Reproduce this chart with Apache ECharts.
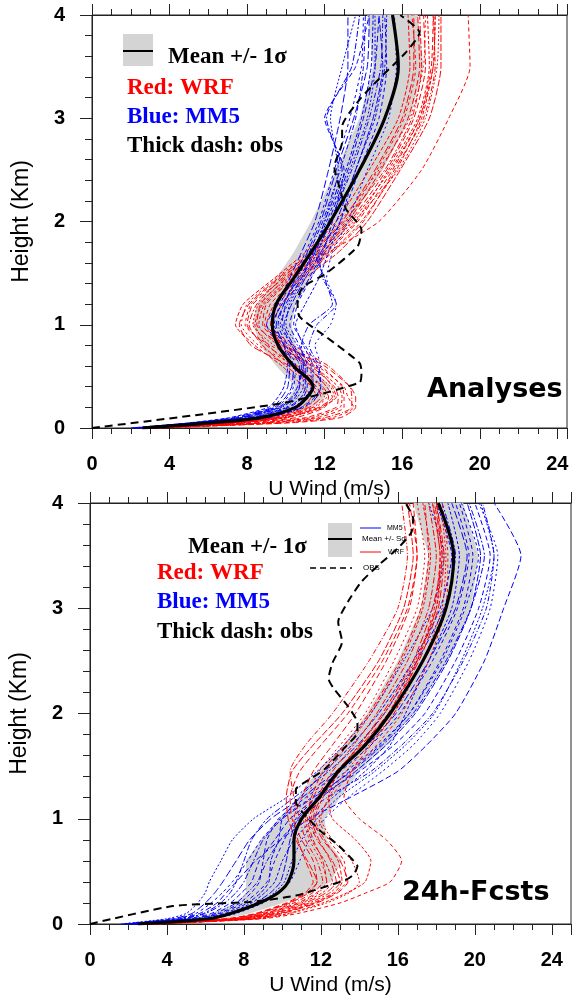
<!DOCTYPE html>
<html>
<head>
<meta charset="utf-8">
<script src="https://cdn.jsdelivr.net/npm/echarts@6/dist/echarts.min.js"></script>
<style>
html,body{margin:0;padding:0;background:#fff;}
#c{width:576px;height:997px;}
</style>
</head>
<body>
<div id="c"></div>
<script>
// Height levels (km) used for ensemble members, mean and sigma
const levels = [0, 0.05, 0.1, 0.2, 0.3, 0.4, 0.6, 0.8, 1.0, 1.2, 1.45, 1.7, 2.0, 2.5, 3.0, 3.5, 4.0];

// ---------- Panel 1: Analyses ----------
const anaWRF = [
  [2.4, 6.8, 9.2, 10.8, 11.3, 10.9, 9.8, 8.4, 7.4, 7.8, 9.4, 11.0, 12.6, 14.3, 15.8, 16.4, 16.3],
  [2.8, 8.0, 10.5, 12.0, 12.2, 11.9, 10.6, 9.0, 8.0, 8.3, 9.9, 11.6, 13.2, 14.9, 16.3, 16.9, 16.8],
  [3.1, 8.8, 11.3, 12.8, 12.9, 12.7, 11.4, 9.6, 8.6, 8.9, 10.3, 12.0, 13.6, 15.3, 16.8, 17.4, 17.3],
  [2.5, 7.0, 9.5, 11.2, 11.8, 11.6, 10.2, 8.2, 7.6, 8.1, 9.6, 11.3, 12.9, 14.6, 16.0, 16.6, 16.6],
  [3.3, 9.5, 12.0, 13.4, 13.4, 13.3, 12.2, 10.4, 9.2, 9.6, 10.8, 12.4, 14.0, 15.6, 17.1, 17.7, 17.6],
  [2.9, 7.6, 10.1, 11.9, 12.5, 12.3, 11.0, 9.4, 8.3, 8.6, 10.1, 11.8, 13.5, 15.8, 17.2, 17.8, 17.9],
  [2.6, 7.1, 9.6, 11.4, 12.0, 11.4, 10.0, 8.8, 8.1, 8.5, 9.8, 11.4, 13.0, 15.1, 16.5, 17.0, 16.9],
  [3.0, 9.0, 11.6, 13.0, 13.0, 12.9, 11.8, 10.0, 8.9, 9.2, 10.6, 12.2, 14.8, 17.0, 18.4, 19.5, 19.4],
  [2.7, 7.4, 9.9, 11.7, 12.4, 12.1, 11.1, 9.8, 9.3, 9.8, 11.0, 12.7, 14.2, 15.9, 17.4, 18.0, 18.0],
  [3.2, 9.8, 12.4, 13.5, 13.2, 13.0, 11.6, 9.2, 7.9, 8.2, 9.7, 11.5, 13.1, 14.7, 16.1, 16.7, 16.5],
  [2.5, 7.2, 9.7, 11.5, 12.1, 11.8, 10.5, 8.6, 7.7, 8.0, 9.5, 11.2, 12.8, 14.8, 16.4, 17.1, 17.2],
  [3.0, 8.5, 11.0, 12.6, 12.7, 12.5, 11.3, 9.9, 8.8, 9.0, 10.4, 12.1, 13.7, 15.5, 16.9, 17.5, 17.6],
  [2.8, 7.5, 10.0, 11.8, 12.6, 12.4, 11.5, 10.2, 9.0, 9.4, 10.7, 12.3, 13.9, 15.7, 17.0, 17.6, 17.7],
  [3.4, 10.2, 12.8, 13.6, 13.6, 13.3, 12.0, 9.9, 8.5, 8.7, 10.0, 11.7, 13.3, 15.2, 16.6, 17.2, 17.1],
  [2.6, 7.0, 9.4, 11.0, 11.6, 11.3, 10.3, 9.1, 8.4, 8.8, 10.2, 11.9, 13.4, 15.4, 16.9, 17.6, 17.7]
];
const anaMM5 = [
  [2.1, 5.2, 7.3, 9.3, 9.8, 10.1, 10.2, 9.7, 9.0, 9.6, 10.2, 10.8, 11.5, 12.2, 12.8, 13.2, 13.2],
  [2.4, 5.6, 7.9, 9.8, 10.5, 10.7, 10.7, 10.1, 9.6, 9.9, 10.6, 11.2, 11.9, 12.8, 13.6, 14.0, 14.1],
  [2.7, 6.0, 8.5, 10.4, 11.0, 11.3, 11.3, 10.6, 10.0, 10.2, 10.9, 11.6, 12.3, 13.3, 14.2, 14.6, 14.6],
  [2.3, 5.4, 7.7, 9.6, 10.3, 10.6, 10.9, 10.8, 11.2, 12.4, 12.0, 11.5, 12.0, 12.9, 12.1, 13.4, 13.8],
  [2.9, 6.3, 9.0, 10.8, 11.5, 11.8, 11.6, 11.0, 10.4, 10.6, 11.3, 12.0, 12.8, 13.8, 14.8, 15.2, 15.1],
  [2.5, 5.8, 8.2, 10.1, 10.8, 11.0, 11.0, 10.4, 9.9, 10.3, 11.0, 11.8, 12.6, 13.6, 14.5, 15.0, 14.8],
  [2.2, 5.1, 7.5, 9.5, 10.1, 10.4, 10.5, 10.0, 9.4, 9.7, 10.4, 11.0, 11.7, 12.5, 13.3, 13.9, 14.0],
  [2.8, 6.2, 8.8, 10.6, 11.2, 11.5, 11.8, 11.5, 12.3, 12.6, 12.1, 12.4, 13.2, 14.2, 15.3, 15.7, 15.6],
  [2.6, 5.9, 8.4, 10.2, 10.9, 11.1, 11.1, 10.7, 10.2, 10.5, 11.2, 11.9, 12.4, 13.0, 12.0, 13.6, 14.3],
  [2.0, 5.0, 7.1, 9.1, 9.6, 9.9, 10.1, 9.9, 9.3, 9.8, 10.7, 11.4, 12.1, 13.1, 13.9, 14.4, 14.5],
  [2.4, 5.5, 7.8, 9.7, 10.4, 10.7, 10.8, 10.3, 9.8, 10.0, 10.8, 11.5, 12.2, 13.2, 14.0, 14.6, 14.8],
  [2.7, 6.1, 8.6, 10.5, 11.1, 11.4, 11.4, 10.9, 10.5, 11.0, 11.7, 12.2, 12.8, 13.6, 14.6, 15.1, 15.2],
  [2.2, 5.3, 7.6, 9.4, 10.0, 10.3, 10.4, 9.9, 9.5, 9.9, 10.5, 11.1, 11.8, 12.6, 13.5, 14.2, 14.3],
  [2.9, 6.4, 9.1, 10.9, 11.6, 11.8, 11.7, 11.2, 11.6, 12.6, 11.9, 11.7, 12.3, 13.4, 14.3, 14.9, 15.0],
  [2.5, 5.7, 8.1, 10.0, 10.6, 10.9, 10.9, 10.3, 9.7, 10.1, 10.8, 11.4, 12.0, 12.7, 12.3, 12.9, 13.6]
];
const anaMean = [2.6, 6.1, 8.7, 10.5, 11.1, 11.4, 10.4, 9.6, 9.3, 9.5, 10.4, 11.3, 12.3, 13.8, 15.1, 15.8, 15.5];
const anaSigma = [0.3, 0.7, 0.9, 0.9, 0.9, 0.9, 0.9, 0.9, 1.0, 1.0, 0.9, 0.9, 1.0, 1.2, 1.3, 1.3, 1.3];
const anaObsH = [0, 0.24, 0.44, 0.54, 0.63, 0.88, 1.08, 1.24, 1.37, 1.5, 1.76, 1.92, 2.12, 2.31, 2.53, 2.77, 2.92, 3.18, 3.38, 3.64, 3.83, 4.0];
const anaObsU = [0, 9.8, 13.8, 13.9, 13.8, 12.1, 10.7, 10.6, 10.9, 12.1, 13.7, 13.9, 13.1, 12.8, 12.5, 12.9, 12.9, 13.8, 14.8, 16.2, 16.9, 15.9];

// ---------- Panel 2: 24h forecasts ----------
const fcWRF = [
  [2.6, 7.2, 8.6, 10.2, 11.2, 11.6, 11.2, 10.8, 10.6, 11.0, 11.6, 12.6, 13.8, 15.4, 16.6, 17.0, 16.6],
  [3.0, 7.8, 9.3, 11.0, 12.1, 12.6, 12.2, 11.5, 11.2, 11.6, 12.3, 13.4, 14.6, 16.2, 17.3, 17.7, 17.3],
  [3.3, 8.5, 10.0, 11.8, 12.9, 13.4, 13.0, 12.1, 11.6, 12.0, 12.9, 14.0, 15.2, 16.8, 17.8, 18.3, 17.9],
  [2.8, 7.5, 9.0, 10.6, 11.6, 12.1, 11.8, 11.2, 10.9, 10.6, 10.4, 11.2, 12.6, 14.5, 16.0, 16.5, 16.2],
  [3.4, 8.8, 10.4, 12.3, 13.5, 14.0, 13.6, 12.6, 12.0, 12.4, 13.3, 14.5, 15.8, 17.3, 18.3, 18.5, 18.2],
  [3.1, 8.1, 9.6, 11.4, 12.5, 13.0, 12.6, 11.8, 11.4, 11.8, 12.6, 13.7, 14.9, 16.5, 17.6, 18.0, 17.6],
  [3.5, 9.0, 10.8, 13.0, 14.4, 15.6, 16.2, 15.4, 14.0, 13.2, 13.6, 14.6, 15.8, 17.0, 17.9, 18.2, 17.8],
  [2.7, 7.3, 8.8, 10.4, 11.4, 11.8, 11.3, 10.7, 10.3, 10.2, 10.5, 11.6, 13.1, 15.0, 16.3, 16.8, 16.5],
  [3.2, 8.3, 9.9, 11.7, 12.8, 13.3, 13.2, 12.4, 11.9, 12.5, 13.6, 14.9, 16.2, 17.6, 18.5, 18.6, 18.3],
  [2.9, 7.7, 9.2, 10.9, 11.9, 12.3, 12.0, 11.4, 11.1, 11.3, 11.9, 13.0, 14.3, 15.8, 17.0, 17.4, 17.0],
  [2.8, 7.6, 9.1, 10.8, 11.8, 12.3, 12.1, 11.6, 11.3, 11.5, 12.1, 13.2, 14.5, 16.1, 17.2, 17.6, 17.4],
  [3.1, 8.2, 9.8, 11.6, 12.7, 13.1, 12.9, 12.2, 11.7, 12.1, 13.0, 14.2, 15.5, 17.0, 18.0, 18.2, 17.8],
  [2.6, 7.1, 8.7, 10.3, 11.3, 11.8, 11.6, 11.0, 10.5, 10.4, 10.9, 12.0, 13.4, 15.2, 16.5, 17.0, 16.8],
  [3.3, 8.6, 10.3, 12.1, 13.4, 14.3, 14.6, 13.8, 12.6, 12.4, 12.9, 14.0, 15.3, 16.9, 18.0, 18.3, 18.0],
  [2.9, 7.9, 9.5, 11.2, 12.3, 12.8, 12.5, 11.9, 11.5, 11.9, 12.8, 14.1, 15.5, 17.1, 18.1, 18.4, 18.0]
];
const fcMM5 = [
  [1.6, 4.0, 5.0, 5.6, 6.0, 6.2, 6.8, 7.4, 8.5, 10.2, 11.8, 13.2, 14.6, 16.3, 17.8, 18.4, 17.6],
  [2.0, 4.8, 5.9, 6.8, 7.3, 7.6, 8.0, 8.4, 9.2, 10.6, 12.4, 13.9, 15.3, 17.0, 18.4, 19.0, 18.3],
  [2.3, 5.5, 6.7, 7.8, 8.4, 8.8, 9.0, 9.2, 9.8, 11.2, 13.0, 14.6, 16.1, 17.8, 19.1, 19.7, 19.0],
  [2.6, 6.1, 7.3, 8.6, 9.4, 9.9, 10.2, 10.4, 10.8, 12.0, 13.8, 15.4, 16.9, 18.6, 19.8, 20.3, 19.6],
  [1.8, 4.5, 5.5, 6.3, 6.9, 7.4, 8.2, 8.9, 9.9, 11.5, 13.3, 15.0, 16.6, 18.3, 19.5, 20.2, 19.3],
  [2.8, 6.4, 7.6, 9.0, 9.8, 10.4, 10.9, 11.4, 12.2, 13.4, 15.2, 16.8, 18.2, 19.7, 20.8, 21.2, 20.2],
  [2.1, 5.1, 6.3, 7.3, 7.9, 8.4, 8.8, 9.6, 10.4, 11.8, 14.0, 15.8, 17.4, 19.0, 20.2, 20.8, 20.0],
  [2.4, 5.8, 7.0, 8.2, 8.9, 9.3, 9.4, 9.8, 10.0, 10.9, 12.2, 13.6, 15.0, 16.8, 18.2, 18.8, 18.0],
  [1.9, 4.6, 5.7, 6.6, 7.1, 7.6, 8.6, 9.9, 11.4, 13.5, 16.0, 17.5, 19.0, 20.5, 21.5, 22.4, 21.0],
  [2.5, 6.0, 7.2, 8.4, 9.1, 9.6, 10.0, 10.6, 11.6, 12.6, 14.3, 15.6, 16.4, 17.6, 18.8, 19.2, 18.6],
  [1.7, 4.3, 5.3, 6.0, 6.5, 6.9, 7.6, 8.3, 9.4, 11.0, 12.8, 14.4, 15.9, 17.6, 19.0, 19.6, 18.8],
  [2.2, 5.3, 6.5, 7.6, 8.2, 8.7, 9.2, 9.9, 10.9, 12.3, 14.6, 16.2, 17.8, 19.4, 20.6, 21.0, 20.4],
  [2.7, 6.3, 7.5, 8.8, 9.6, 10.1, 10.5, 11.0, 11.8, 12.9, 14.8, 16.4, 17.9, 19.3, 20.4, 21.0, 20.3],
  [2.0, 4.9, 6.0, 7.0, 7.6, 8.0, 8.5, 9.0, 10.0, 11.6, 13.6, 15.2, 16.8, 18.5, 19.8, 20.5, 19.7],
  [2.4, 5.6, 6.8, 8.0, 8.7, 9.2, 9.6, 10.1, 10.7, 11.8, 13.5, 15.1, 16.6, 18.2, 19.4, 19.9, 19.2]
];
const fcMean = [2.5, 6.2, 7.3, 8.8, 9.8, 10.3, 10.6, 10.6, 11.0, 11.9, 12.9, 14.3, 15.6, 17.3, 18.5, 18.9, 18.1];
const fcSigma = [0.3, 0.8, 1.0, 1.2, 1.7, 2.2, 2.5, 1.7, 1.2, 1.1, 1.1, 1.1, 1.2, 1.3, 1.3, 1.3, 1.3];
const fcObsH = [0, 0.17, 0.21, 0.27, 0.42, 0.47, 0.55, 0.62, 0.75, 0.88, 1.03, 1.16, 1.28, 1.35, 1.47, 1.67, 1.82, 1.91, 2.07, 2.23, 2.33, 2.48, 2.68, 2.87, 3.06, 3.25, 3.41, 3.57, 3.72, 3.85, 4.0];
const fcObsU = [0, 4.3, 8.3, 10.7, 13.3, 13.7, 13.9, 13.6, 12.9, 12.0, 11.2, 10.7, 10.7, 11.2, 12.2, 13.2, 13.9, 13.9, 13.4, 12.7, 12.4, 12.6, 13.1, 12.9, 13.4, 14.1, 15.0, 16.0, 16.7, 16.8, 16.4];

// Axis ticks
const xTicksMin = 0, xInterval = 4;
const yTicksMin = 0, yMax = 4, yInterval = 1;
const panelXMax = [24.5, 25];

// ---------- Chart ----------
const FONT = '"Liberation Sans", Arial, Helvetica, sans-serif';
const SERIF = '"Liberation Serif", "Times New Roman", serif';
const dashes = [[4,2],[6,3],[3,2],[8,3],[5,2,1,2],[2,2],[6,2,2,2],[4,3],[7,2],[3,3],[2,3],[5,3]];

const grids = [
  {left: 92, top: 15, width: 475, height: 413},
  {left: 87, top: 503, width: 484, height: 423}
];

function xAxes(gi) {
  const base = {
    gridIndex: gi, type: 'value', min: xTicksMin, max: panelXMax[gi], interval: xInterval,
    axisLine: {show: true, onZero: false, lineStyle: {color: '#222', width: 1}},
    axisTick: {show: true, length: 11, lineStyle: {color: '#222'}},
    minorTick: {show: true, splitNumber: 4, length: 6, lineStyle: {color: '#222'}},
    splitLine: {show: false}, minorSplitLine: {show: false}
  };
  return [
    Object.assign({}, base, {
      position: 'bottom',
      axisLabel: {show: true, color: '#000', fontSize: 20, fontWeight: 'bold', fontFamily: FONT, margin: 26,
        showMaxLabel: false, formatter: v => (v % 4 === 0 ? String(v) : '')},
      name: 'U Wind (m/s)', nameLocation: 'middle', nameGap: 51,
      nameTextStyle: {color: '#000', fontSize: 21, fontFamily: FONT}
    }),
    Object.assign({}, base, {position: 'top', axisLabel: {show: false}})
  ];
}
function yAxis(gi) {
  return {
    gridIndex: gi, type: 'value', min: yTicksMin, max: yMax, interval: yInterval, position: 'left',
    axisLine: {show: true, onZero: false, lineStyle: {color: '#222', width: 1}},
    axisTick: {show: true, length: 12, lineStyle: {color: '#222'}},
    minorTick: {show: true, splitNumber: 5, length: 7, lineStyle: {color: '#222'}},
    splitLine: {show: false}, minorSplitLine: {show: false},
    axisLabel: {color: '#000', fontSize: 20, fontWeight: 'bold', fontFamily: FONT, margin: 27},
    name: 'Height (Km)', nameLocation: 'middle', nameGap: 59, nameRotate: 90,
    nameTextStyle: {color: '#000', fontSize: 23, fontFamily: FONT}
  };
}

function bandSeries(gi, mean, sig) {
  return {
    type: 'custom', xAxisIndex: gi * 2, yAxisIndex: gi, silent: true, z: 1, clip: true,
    data: [[mean[0], levels[0]]],
    renderItem: function (params, api) {
      const pts = [];
      for (let k = 0; k < levels.length; k++) pts.push(api.coord([mean[k] + sig[k], levels[k]]));
      for (let k = levels.length - 1; k >= 0; k--) pts.push(api.coord([mean[k] - sig[k], levels[k]]));
      return {type: 'polygon', shape: {points: pts}, style: {fill: '#d4d4d4', stroke: null}};
    }
  };
}
function memberSeries(gi, members, color, off) {
  return members.map((m, i) => ({
    type: 'line', xAxisIndex: gi * 2, yAxisIndex: gi, silent: true, z: 3,
    data: m.map((u, k) => [u, levels[k]]),
    showSymbol: false, symbol: 'none', smooth: 0.2,
    lineStyle: {color: color, width: 1, type: dashes[(i + off) % dashes.length]}
  }));
}
function meanSeries(gi, mean) {
  return {
    type: 'line', xAxisIndex: gi * 2, yAxisIndex: gi, silent: true, z: 6,
    data: mean.map((u, k) => [u, levels[k]]), showSymbol: false, symbol: 'none', smooth: 0.3,
    lineStyle: {color: '#000', width: 3.2}
  };
}
function obsSeries(gi, hs, us) {
  return {
    type: 'line', xAxisIndex: gi * 2, yAxisIndex: gi, silent: true, z: 5,
    data: us.map((u, k) => [u, hs[k]]), showSymbol: false, symbol: 'none', smooth: 0.2,
    lineStyle: {color: '#000', width: 2, type: [8, 5]}
  };
}

const series = [
  bandSeries(0, anaMean, anaSigma),
  ...memberSeries(0, anaWRF, '#ff0000', 0),
  ...memberSeries(0, anaMM5, '#0000ff', 3),
  obsSeries(0, anaObsH, anaObsU),
  meanSeries(0, anaMean),
  bandSeries(1, fcMean, fcSigma),
  ...memberSeries(1, fcMM5, '#0000ff', 5),
  ...memberSeries(1, fcWRF, '#ff0000', 1),
  obsSeries(1, fcObsH, fcObsU),
  meanSeries(1, fcMean)
];

const serifB = 'bold 23px ' + SERIF;
const sansTitle = 'bold 27px "DejaVu Sans", Verdana, sans-serif';
function label(x, y, s, font, color, z) {
  return {type: 'text', x: x, y: y, z: z || 10, style: {text: s, font: font, fill: color || '#000', verticalAlign: 'middle'}};
}
const graphics = [
  // Panel 1 legend
  {type: 'rect', shape: {x: 123, y: 34, width: 30, height: 32}, style: {fill: '#d4d4d4'}, z: 10},
  {type: 'line', shape: {x1: 123, y1: 51, x2: 153, y2: 51}, style: {stroke: '#000', lineWidth: 2}, z: 10},
  label(168, 57, 'Mean +/- 1\u03c3', serifB),
  label(127, 88, 'Red: WRF', serifB, '#ff0000'),
  label(127, 117, 'Blue: MM5', serifB, '#0000ff'),
  label(127, 146, 'Thick dash: obs', serifB),
  label(427, 390, 'Analyses', sansTitle),
  // Panel 2 legend
  label(188, 547, 'Mean +/- 1\u03c3', serifB),
  label(157, 573, 'Red: WRF', serifB, '#ff0000'),
  label(157, 602, 'Blue: MM5', serifB, '#0000ff'),
  label(157, 632, 'Thick dash: obs', serifB),
  label(402, 893, '24h-Fcsts', sansTitle),
  // small inset legend
  {type: 'rect', shape: {x: 328, y: 523, width: 24, height: 34}, style: {fill: '#d4d4d4'}, z: 2},
  {type: 'line', shape: {x1: 328, y1: 539, x2: 352, y2: 539}, style: {stroke: '#000', lineWidth: 2}, z: 2},
  {type: 'line', shape: {x1: 360, y1: 528, x2: 381, y2: 528}, style: {stroke: '#0000ff', lineWidth: 1}, z: 2},
  {type: 'line', shape: {x1: 360, y1: 552, x2: 381, y2: 552}, style: {stroke: '#ff0000', lineWidth: 1}, z: 2},
  {type: 'line', shape: {x1: 310, y1: 568, x2: 352, y2: 568}, style: {stroke: '#000', lineWidth: 1.5, lineDash: [6, 4]}, z: 2},
  label(387, 528, 'MM5', '7px ' + FONT, '#000', 2),
  label(362, 539, 'Mean +/- Sd', '8px ' + FONT, '#000', 2),
  label(388, 552, 'WRF', '7px ' + FONT, '#000', 2),
  label(363, 568, 'OBS', '8px ' + FONT, '#000', 2)
];

const chart = echarts.init(document.getElementById('c'), null, {renderer: 'canvas'});
chart.setOption({
  animation: false,
  backgroundColor: '#ffffff',
  grid: grids.map(g => Object.assign({show: true, borderColor: '#222', borderWidth: 1, backgroundColor: 'transparent'}, g)),
  xAxis: [...xAxes(0), ...xAxes(1)],
  yAxis: [yAxis(0), yAxis(1)],
  series: series,
  graphic: graphics
});
</script>
</body>
</html>
